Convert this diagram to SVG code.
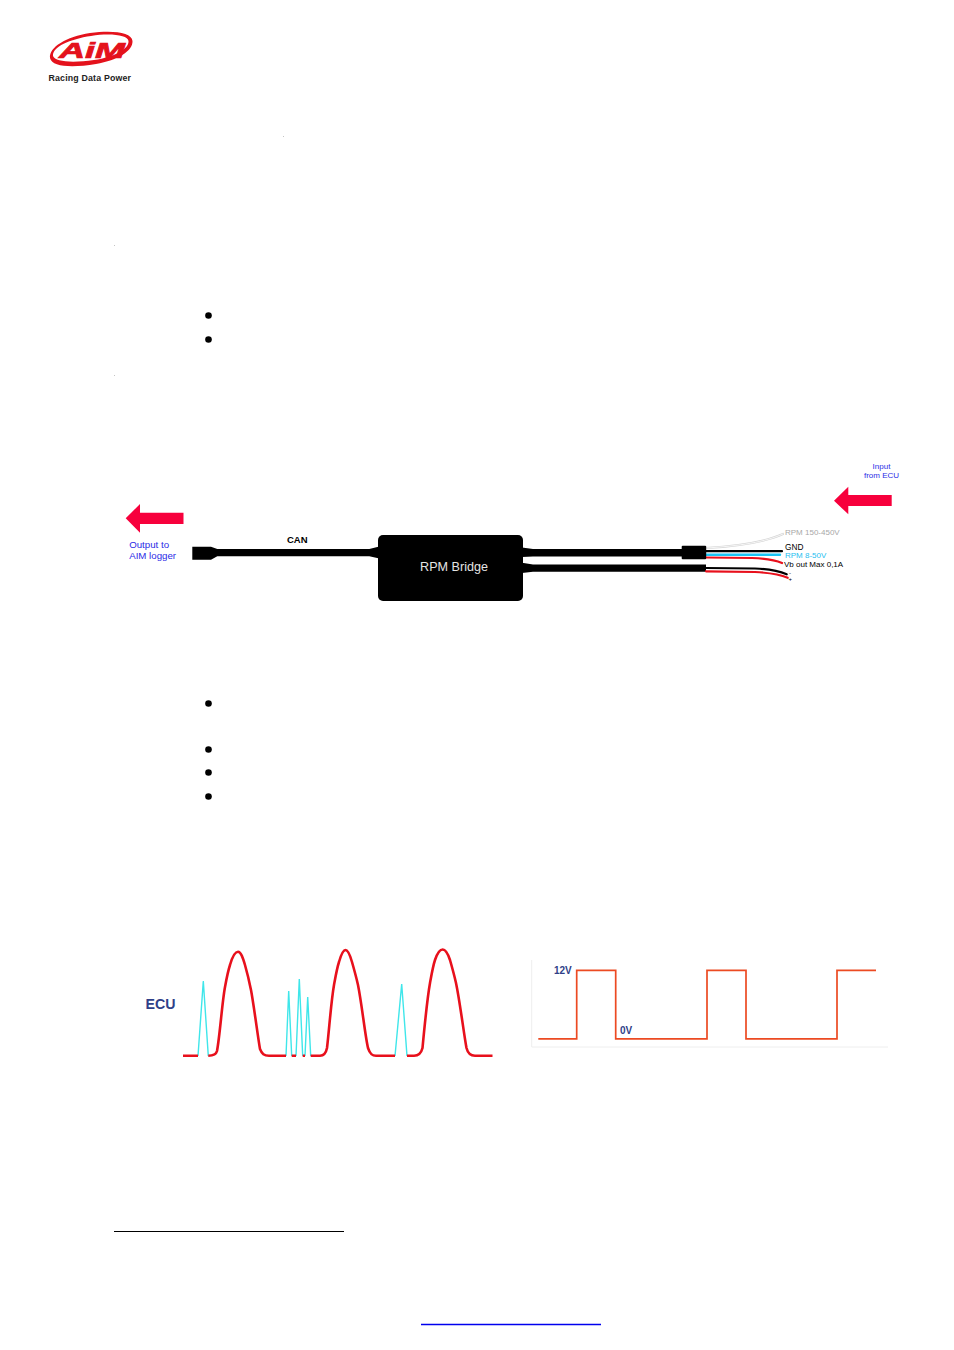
<svg xmlns="http://www.w3.org/2000/svg" width="954" height="1350" viewBox="0 0 954 1350">
<style>
text{font-family:"Liberation Sans",Arial,sans-serif}
.blue{fill:#2b2be6}
.arrow{fill:#f7003c}
.box{fill:#000}
.w{fill:none;stroke-linecap:round}
.bul{fill:#000}
.ecu{fill:#2f3f88}
</style>
<rect width="954" height="1350" fill="#fff"/>
<g id="logo">
<path d="M50 58C49 47 66 37 90 33C112 30 132 32 132.500 41C133 51 118 60 96 64C72 68 52 67 50 58ZM53 56C55 62 73 63 94 60C115 57 129 49 128.500 41C128 35 110 33 91 36C70 39 52 47 53 56Z" fill="#e4121c"/>
<text x="59" y="58" font-size="22" font-weight="700" font-style="italic" fill="#e4121c" stroke="#e4121c" stroke-width="0.700" textLength="66" lengthAdjust="spacingAndGlyphs">AiM</text>
<text x="48.500" y="80.500" font-size="8.800" font-weight="700" fill="#222" textLength="82.500">Racing Data Power</text>
</g>
<g id="marks" fill="#c4c4c4">
<rect x="283" y="136" width="1" height="1"/><rect x="114" y="245" width="1" height="1"/><rect x="114" y="375" width="1" height="1"/>
</g>
<g id="bullets" class="bul">
<circle cx="208.500" cy="315.500" r="3.300"/><circle cx="208.500" cy="339.500" r="3.300"/>
<circle cx="208.500" cy="703.500" r="3.300"/><circle cx="208.500" cy="749.500" r="3.300"/><circle cx="208.500" cy="772.500" r="3.300"/><circle cx="208.500" cy="796.500" r="3.300"/>
</g>
<g id="connectors">
<path id="can-cable" class="box" d="M192.300 546.700H211L217.300 549H369.300L378.300 546.700V558.300L369.300 556.300H217.300L211 559.700H192.300Z"/>
<path id="cable-top" class="box" d="M522 547.500L533 549H682V556.500H533L522 557Z"/>
<path id="cable-bottom" class="box" d="M522 562.700L533 564.500H706V571.700H533L522 573Z"/>
<path class="w" d="M706 548C740 546 765 542 783 534" stroke="#d4d4d4" stroke-width="2.200"/>
<path class="w" d="M706 548C740 546 765 542 783 534" stroke="#fff" stroke-width="0.800"/>
<path class="w" d="M706 551.200H782" stroke="#000" stroke-width="2.200"/>
<path class="w" d="M706 554.800H780" stroke="#19c5f5" stroke-width="2.400"/>
<path class="w" d="M706 557.500L752 558C766 558.500 775 560 782 563" stroke="#e8101c" stroke-width="2.200"/>
<path class="w" d="M706 568L755 568.500C768 569 779 571 786.700 574.300" stroke="#000" stroke-width="2.200"/>
<path class="w" d="M706 571.300L755 572C768 572.700 780 574.500 787.700 577.800" stroke="#e8101c" stroke-width="2.200"/>
</g>
<g id="connector-right"><rect class="box" x="681.700" y="545.700" width="24.500" height="13.600" rx="1"/></g>
<g id="rpm-bridge">
<rect class="box" x="378" y="535" width="145" height="66" rx="5"/>
<text x="454" y="571" font-size="12.600" fill="#e4e4e4" text-anchor="middle">RPM Bridge</text>
</g>
<g id="output-arrow">
<path class="arrow" d="M125.700 518.300L140 504V512.700H183.500V524H140V532.700Z"/>
<text class="blue" x="129.200" y="547.800" font-size="9.700">Output to</text>
<text class="blue" x="129.200" y="558.800" font-size="9.700">AIM logger</text>
</g>
<g id="input-arrow">
<path class="arrow" d="M834 500.700L848.300 486.700V495H891.700V506H848.300V514.300Z"/>
<text class="blue" x="881.500" y="469" font-size="8" text-anchor="middle">Input</text>
<text class="blue" x="881.500" y="477.500" font-size="8" text-anchor="middle">from ECU</text>
</g>
<g id="labels">
<text x="287" y="543" font-size="9.500" font-weight="700">CAN</text>
<text x="785" y="535" font-size="8" fill="#a8a8a8">RPM 150-450V</text>
<text x="785" y="549.500" font-size="8.300">GND</text>
<text x="785" y="557.700" font-size="8" fill="#1fc0f0">RPM 8-50V</text>
<text x="784" y="567" font-size="8">Vb out Max 0,1A</text>
<text x="789" y="575" font-size="6">-</text>
<text x="788.500" y="581" font-size="6">+</text>
</g>
<g id="ecu-chart">
<text class="ecu" x="145.500" y="1008.500" font-size="14.200" font-weight="700">ECU</text>
<g fill="none" stroke="#3fe6ea" stroke-width="1.400">
<path d="M198 1056L203.300 981L208.300 1056"/>
<path d="M286 1056L288.700 991L291.700 1056"/>
<path d="M296 1056L299.300 979L302.700 1056"/>
<path d="M305 1056L307.700 997L310.700 1056"/>
<path d="M395 1056L401.700 984L407 1056"/>
</g>
<g fill="none" stroke="#e8101c" stroke-width="2.600" stroke-linejoin="round">
<path d="M183 1055.700H198M208.300 1055.700C213 1055.700 216 1055 217 1051C220 1035 222 1003 225 987C227 976 228 971 230 965C232 958 235 951.700 238 951.700C241 951.700 243 958 245 965C247 972 249 980 251 990C254 1006 258 1038 260 1049C262 1054 264 1055.700 269 1055.700H286M291.700 1055.700H296M302.700 1055.700H305M310.700 1055.700H320C324 1055.700 326 1053 327 1048C329 1032 331 1002 334 985C336 974 337 968 339 962C341 955 343 950 345.500 950C348 950 350 955 352 962C354 969 356 976 358 985C362 1005 365 1035 368 1048C370 1054 372 1055.700 376 1055.700H395M407 1055.700H414C418 1055.700 421 1054 422.500 1048C424 1032 427 1000 430 983C432 972 433 966 435 960C437 954 440 949.500 442.700 949.500C446 949.500 448 954 450 960C452 967 454 974 456 983C460 1002 464 1035 466.500 1048C468 1054 471 1055.700 475 1055.700H492.500"/>
</g>
</g>
<g id="square-chart">
<path d="M531.700 960V1047H888" fill="none" stroke="#eeeeee" stroke-width="1"/>
<path d="M538.300 1038.800H576.700V970.300H615.700V1038.800H707V970.300H746V1038.800H837V970.300H876" fill="none" stroke="#ec4a22" stroke-width="1.700"/>
<text class="ecu" x="554" y="973.500" font-size="10" font-weight="700">12V</text>
<text class="ecu" x="620" y="1034.300" font-size="10" font-weight="700">0V</text>
</g>
<g id="page-rules">
<path d="M114 1231.500H344" stroke="#000" stroke-width="1"/>
<path d="M421 1324.500H601" stroke="#0000ee" stroke-width="1.500"/>
</g>
</svg>
